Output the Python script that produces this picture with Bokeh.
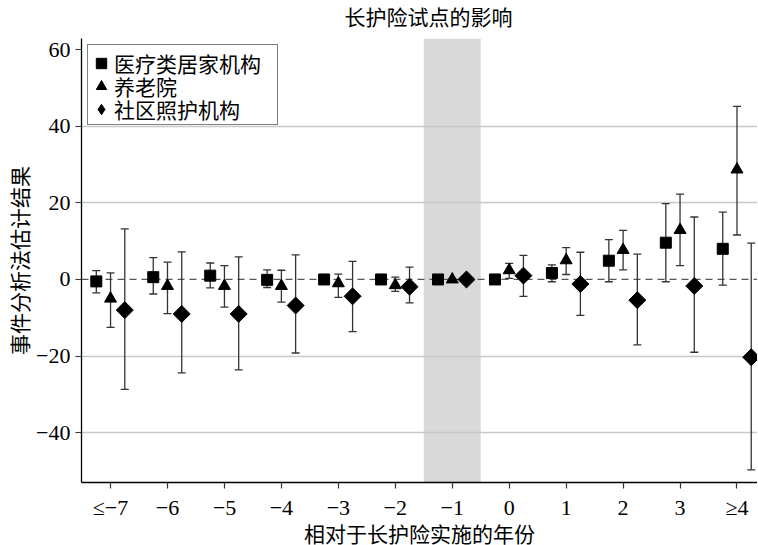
import numpy as np
from bokeh.plotting import figure
from bokeh.models import (Range1d, FixedTicker, Span, BoxAnnotation, Legend,
                          LegendItem, ColumnDataSource, Title)
from bokeh.embed import file_html
from bokeh.resources import INLINE

# ---------------- data ----------------
years = [-7, -6, -5, -4, -3, -2, -1, 0, 1, 2, 3, 4]
year_labels = ["≤−7", "−6", "−5", "−4", "−3", "−2", "−1", "0", "1", "2", "3", "≥4"]
y_ticks = [-40, -20, 0, 20, 40, 60]
y_tick_labels = ["−40", "−20", "0", "20", "40", "60"]
grid_ticks = [-40, -20, 20, 40]
pilot_year = -1

series_names = ["医疗类居家机构", "养老院", "社区照护机构"]

med_est = [-0.5, 0.6, 1.0, -0.1, 0.0, 0.0, 0.0, 0.0, 1.7, 4.9, 9.6, 8.0]
med_lo = [-3.5, -3.8, -2.2, -2.1, -0.5, -0.5, np.nan, -0.5, -0.6, -0.6, -0.6, -1.5]
med_hi = [2.3, 5.7, 4.3, 2.5, 0.5, 0.5, np.nan, 0.5, 3.8, 10.4, 19.8, 17.6]

nh_est = [-5.0, -1.7, -1.7, -1.7, -1.0, -1.5, 0.0, 2.4, 5.0, 7.7, 12.9, 28.7]
nh_lo = [-12.5, -8.9, -7.2, -5.9, -4.7, -3.1, np.nan, 0.3, 1.3, 2.5, 3.6, 11.6]
nh_hi = [1.7, 4.5, 3.6, 2.4, 1.4, 0.6, np.nan, 4.2, 8.3, 12.8, 22.3, 45.2]

cc_est = [-8.0, -9.0, -9.0, -6.8, -4.4, -1.9, 0.0, 1.0, -1.2, -5.4, -1.7, -20.3]
cc_lo = [-28.7, -24.4, -23.6, -19.2, -13.6, -6.1, np.nan, -4.4, -9.4, -17.1, -19.0, -49.7]
cc_hi = [13.2, 7.2, 5.9, 6.4, 4.7, 3.2, np.nan, 6.3, 7.1, 6.6, 16.3, 9.5]

# ---------------- figure ----------------
CJK = "Liberation Serif, Noto Sans CJK SC"
SERIF = "Liberation Serif"
FRAME_H = 444

p = figure(frame_width=676, frame_height=FRAME_H, output_backend="svg",
           toolbar_location=None,
           x_range=Range1d(-7.51, 4.36), y_range=Range1d(-53.0, 62.9),
           min_border_left=0, min_border_right=0, min_border_top=0,
           min_border_bottom=0)
p.margin = (5, 0, 0, 6)
p.outline_line_color = None
p.background_fill_color = "white"
p.border_fill_color = "white"

p.title = Title(text="长护险试点的影响", align="left", offset=263,
                vertical_align="top",
                text_font=CJK, text_font_size="21px", text_font_style="normal",
                text_color="black", standoff=0)
p.add_layout(Title(text=" ", text_font=SERIF, text_font_size="4px",
                   standoff=0), "above")

# shaded pilot year
shade = BoxAnnotation(left=pilot_year - 0.5, right=pilot_year + 0.5,
                      fill_color="#d9d9d9", fill_alpha=1.0, line_color=None,
                      level="image")
p.add_layout(shade)

# grid
p.xgrid.visible = False
p.ygrid.ticker = FixedTicker(ticks=grid_ticks)
p.ygrid.grid_line_color = "#c8c8c8"
p.ygrid.grid_line_width = 1.3

# zero line
p.add_layout(Span(location=0, dimension="width", line_color="#555555",
                  line_dash="7 5", line_width=1.2, level="underlay"))

# axes
for ax in (p.xaxis[0], p.yaxis[0]):
    ax.axis_line_color = "black"
    ax.axis_line_width = 1.3
    ax.major_tick_line_color = "#333333"
    ax.major_tick_line_width = 1.2
    ax.major_tick_out = 6
    ax.major_tick_in = 0
    ax.minor_tick_line_color = None
    ax.major_label_text_font = SERIF
    ax.major_label_text_font_size = "22px"
    ax.major_label_text_color = "black"
    ax.axis_label_text_font = CJK
    ax.axis_label_text_font_size = "21px"
    ax.axis_label_text_font_style = "normal"
    ax.axis_label_text_color = "black"

p.xaxis.ticker = FixedTicker(ticks=years)
p.xaxis.major_label_overrides = {y: l for y, l in zip(years, year_labels)}
p.xaxis.major_label_standoff = 6
p.xaxis.axis_label = "相对于长护险实施的年份"
p.xaxis.axis_label_standoff = 0

p.yaxis.ticker = FixedTicker(ticks=y_ticks)
p.yaxis.major_label_overrides = {y: l for y, l in zip(y_ticks, y_tick_labels)}
p.yaxis.major_label_standoff = 5
p.yaxis.axis_label = "事件分析法估计结果"
p.yaxis.axis_label_standoff = 0

# series
specs = [
    (med_est, med_lo, med_hi, -0.25, dict(marker="square", size=11, angle=0.0), "square"),
    (nh_est, nh_lo, nh_hi, 0.0, dict(marker="triangle", size=12, angle=0.0), "triangle"),
    (cc_est, cc_lo, cc_hi, 0.25, dict(marker="square", size=12, angle=np.pi / 4), "diamond"),
]

legend_renderers = []
blank_renderer = None
for est, lo, hi, off, mk, legend_marker in specs:
    xs = [y + off for y in years]
    src = ColumnDataSource(dict(x=xs, est=est, lo=lo, hi=hi))
    p.segment(x0="x", y0="lo", x1="x", y1="hi", source=src,
              line_color="#333333", line_width=1.3)
    p.scatter(x="x", y="lo", source=src, marker="dash", size=8,
              line_color="#333333", line_width=1.3)
    p.scatter(x="x", y="hi", source=src, marker="dash", size=8,
              line_color="#333333", line_width=1.3)
    r = p.scatter(x="x", y="est", source=src, fill_color="black",
                  line_color="black", **mk)
    if legend_marker == mk["marker"] and mk["angle"] == 0.0:
        legend_renderers.append(r)
    else:
        # legend-only glyph (legend does not rotate markers)
        lr = p.scatter(x="x", y="est", source=src, marker=legend_marker,
                       fill_color="black", line_color="black", visible=False)
        legend_renderers.append(lr)
    if blank_renderer is None:
        blank_renderer = p.scatter(x="x", y="est", source=src, size=1,
                                   fill_alpha=0, line_alpha=0, visible=False)

# legend frame (box only)
ROW = 23
legend_box = Legend(items=[LegendItem(label=" ", renderers=[blank_renderer])],
                    location="top_left", margin=6, padding=4, spacing=0,
                    glyph_width=181, glyph_height=3 * ROW + 2,
                    label_height=3 * ROW + 2, label_width=0, label_standoff=0,
                    label_text_font=SERIF, label_text_font_size="4px",
                    border_line_color="black", border_line_width=1.5,
                    background_fill_color="white", background_fill_alpha=1.0)
p.add_layout(legend_box)

# one entry per row, stacked at the reference row pitch
first_row_center = 25
for i, (name, r) in enumerate(zip(series_names, legend_renderers)):
    row_center = first_row_center + ROW * i
    h = 30
    bottom_from_frame_bottom = FRAME_H - (row_center + h / 2)
    lg = Legend(items=[LegendItem(label=name, renderers=[r])],
                location=(7, bottom_from_frame_bottom), padding=0, spacing=0,
                glyph_width=26, glyph_height=30, label_height=ROW,
                label_width=150, label_standoff=0,
                label_text_font=CJK, label_text_font_size="21px",
                label_text_color="black",
                border_line_color=None, background_fill_alpha=0.0)
    p.add_layout(lg)

open("out.html", "w").write(file_html(p, INLINE))
